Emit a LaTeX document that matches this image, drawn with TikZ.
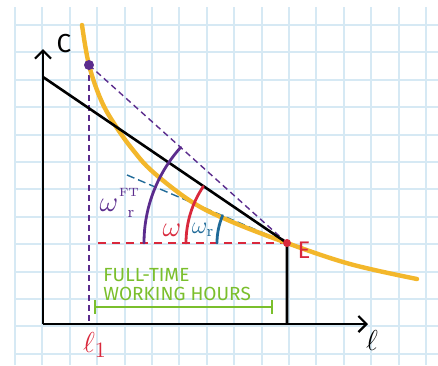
\documentclass[tikz,border=0pt]{standalone}
\usepackage{fontspec}
\usetikzlibrary{arrows.meta,calc}
\newfontfamily\handfont{Fira Sans}
\definecolor{gridc}{HTML}{D6E9F4}
\definecolor{icy}{HTML}{F3B72B}
\definecolor{pur}{HTML}{5B2C8D}
\definecolor{redc}{HTML}{D9283C}
\definecolor{bluec}{HTML}{1F6A98}
\definecolor{grn}{HTML}{7ABF2C}
\tikzset{
  gridline/.style={gridc, line width=1pt},
  axis/.style={black, line width=1.3pt, -{Straight Barb[length=4pt,width=8pt,line width=1.1pt]}},
  budget/.style={black, line width=1.3pt},
  icurve/.style={icy, line width=2.2pt, line cap=round},
  pdash/.style={pur, dashed, dash pattern=on 3pt off 2pt, line width=0.7pt},
  rdash/.style={redc, dashed, dash pattern=on 4pt off 3pt, line width=0.7pt},
  bdash/.style={bluec, dashed, dash pattern=on 4pt off 2pt, line width=0.7pt},
  anglearc/.style={line width=1.4pt, line cap=round},
  lbl/.style={inner sep=0pt},
  greentext/.style={grn, inner sep=0pt, anchor=west, font=\handfont\fontsize{9.5}{11}\selectfont}
}
\begin{document}
\begin{tikzpicture}[x=0.5pt,y=-0.5pt]
\useasboundingbox (0,0) rectangle (438,365);
\fill[white] (0,0) rectangle (438,365);
\begin{scope}
  \clip (14,7) rectangle (438,365);
  \foreach \i in {0,...,15} \draw[gridline] ({15+27.4*\i},7) -- ({15+27.4*\i},365);
  \foreach \j in {0,...,12} \draw[gridline] (14,{25+27.4*\j}) -- (438,{25+27.4*\j});
\end{scope}

% key points
\coordinate (O) at (43,324);
\coordinate (Ytop) at (43,49);
\coordinate (Xend) at (368,324);
\coordinate (A) at (43,77);
\coordinate (E) at (287,243);
\coordinate (Eb) at (287,324);
\coordinate (P) at (89,65);
\coordinate (Pb) at (89,324);
\coordinate (Rl) at (98,243);
\coordinate (T) at (127,175);
\coordinate (Gl) at (95,307);
\coordinate (Gr) at (272,307);

% dashed helper lines
\draw[pdash] (P) -- (Pb);
\draw[pdash] (P) -- (E);
\draw[rdash] (Rl) -- (E);
\draw[bdash] (T) -- (E);

% indifference curve
\draw[icurve] plot[smooth, tension=0.6] coordinates {(82,25) (89,65) (101,100) (115,125) (133,150) (153,172) (192,202) (230,221) (287,243) (350,264) (417,279)};

% budget set
\draw[budget] (A) -- (E) -- (Eb);
\draw[axis] (O) -- (Ytop);
\draw[axis] (O) -- (Xend);

% angle arcs around E
\draw[anglearc, pur] ($(E)+(-143,0)$) arc[start angle=180, end angle=222, radius=143];
\draw[anglearc, redc] ($(E)+(-101,0)$) arc[start angle=180, end angle=214, radius=101];
\draw[anglearc, bluec] ($(E)+(-70,0)$) arc[start angle=180, end angle=203, radius=70];

% points
\fill[pur] (P) circle[radius=5];
\fill[redc] (E) circle[radius=4];

% bracket
\draw[grn, line width=1pt] (Gl) -- (Gr);
\draw[grn, line width=1pt] ($(Gl)+(0,-7)$) -- ($(Gl)+(0,7)$);
\draw[grn, line width=1pt] ($(Gr)+(0,-7)$) -- ($(Gr)+(0,7)$);

% labels
\node[lbl, font=\handfont\fontsize{13}{15}\selectfont] (lc) at (64,44) {C};
\node[lbl, font=\fontsize{15}{17}\selectfont] (ll) at (372,340) {$\ell$};
\node[lbl, text=redc, font=\fontsize{15}{17}\selectfont] (l1) at (95,345) {$\ell_1$};
\node[lbl, text=redc, font=\handfont\fontsize{12}{14}\selectfont] (le) at (304,250) {E};
\node[lbl, text=pur, font=\fontsize{14}{16}\selectfont] (wft) at (109,205) {$\omega$};
\node[lbl, text=pur, font=\fontsize{6}{7}\selectfont] (wfts) at (129,192) {FT};
\node[lbl, text=pur, font=\fontsize{8}{9}\selectfont] (wftr) at (131,214) {r};
\node[lbl, text=redc, font=\fontsize{14}{16}\selectfont] (wr) at (172,230) {$\omega$};
\node[lbl, text=bluec, font=\fontsize{12}{14}\selectfont] (wb) at (203,230) {$\omega_{\mathrm{r}}$};
\node[greentext] (g1) at (103,275) {FULL-TIME};
\node[greentext] (g2) at (103,294) {WORKING HOURS};
\end{tikzpicture}
\end{document}
